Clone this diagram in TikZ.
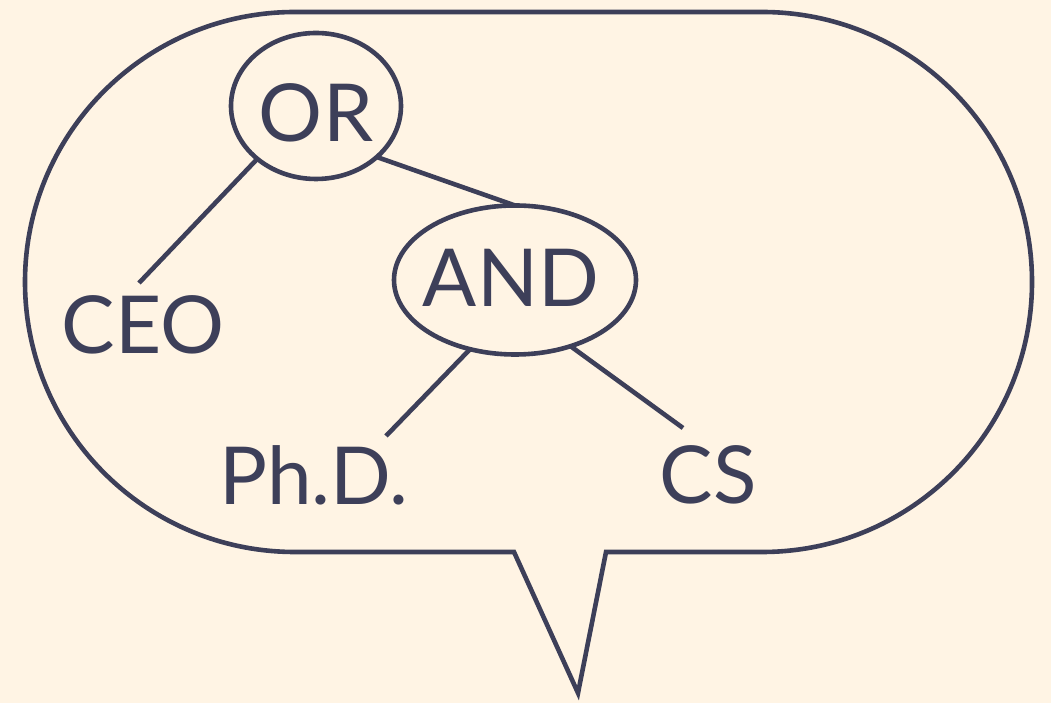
\documentclass[tikz,border=0pt]{standalone}
\usepackage{fontspec}
\setmainfont{Lato}
\usetikzlibrary{shapes.geometric,calc}
\definecolor{bgc}{HTML}{FFF4E4}
\definecolor{ink}{HTML}{3D3F59}
\tikzset{
  lw/.style={line width=4.6pt, draw=ink},
  oval/.style={ellipse, lw, inner sep=0pt, outer sep=0pt},
  txt/.style={text=ink, inner sep=0pt, font=\fontsize{80}{90}\selectfont},
  edge/.style={lw, line cap=butt}
}
\begin{document}
\begin{tikzpicture}[x=1pt,y=1pt]
\fill[bgc] (0,0) rectangle (1051,703);
\useasboundingbox (0,0) rectangle (1051,703);
% speech bubble
\draw[lw, line join=miter] (514,151) -- (295,151)
  arc[start angle=270, end angle=90, radius=270] -- (762,691)
  arc[start angle=90, end angle=-90, radius=270] -- (606,151)
  -- (578,10) -- cycle;
% nodes
\node[oval, minimum width=170pt, minimum height=146pt] (or) at (316,597) {};
\node[txt] (ortxt) at (316,590) {OR};
\node[oval, minimum width=242pt, minimum height=149pt] (and) at (515,423) {};
\node[txt] (andtxt) at (511,425) {AND};
\node[txt] (ceo) at (143,378) {CEO};
\node[txt] (phd) at (314,228) {Ph.D.};
\node[txt] (cs) at (708,228) {CS};
% connectors
\draw[edge] (or.222) -- ($(ceo.center)+(-4,42)$);
\draw[edge] (or.-40) -- (and.north);
\draw[edge] (and.237) -- ($(phd.center)+(72,39)$);
\draw[edge] (and.-50) -- ($(cs.center)+(-25,47)$);
\end{tikzpicture}
\end{document}
